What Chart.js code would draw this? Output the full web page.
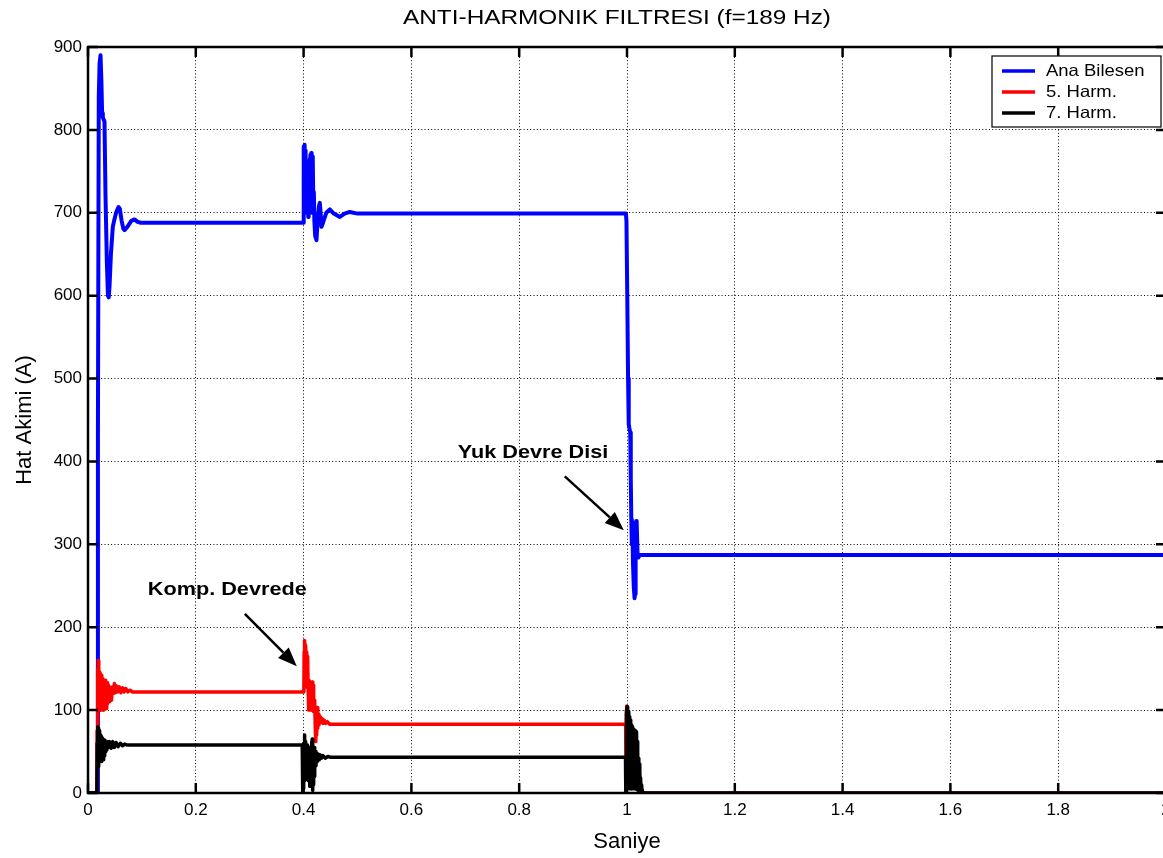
<!DOCTYPE html>
<html><head><meta charset="utf-8">
<script src="https://cdn.jsdelivr.net/npm/chart.js@4"></script>
<style>html,body{margin:0;padding:0;background:#fff;overflow:hidden}#wrap{width:1163px;height:858px;position:relative;overflow:hidden}</style>
</head><body><div id="wrap"><canvas id="c" width="1166" height="858"></canvas></div>
<script>
// ---- data: [time (s), current (A)] ----
const anaBilesen = [[0,0],[0.0178,0],[0.0184,430],[0.0200,840],[0.0215,880],[0.0232,890],[0.0248,860],[0.0262,820],[0.0275,815],[0.0306,810],[0.0325,720],[0.0350,640],[0.0370,600],[0.0385,598],[0.0400,612],[0.0425,650],[0.0460,683],[0.0490,692],[0.0525,701],[0.0566,707],[0.0590,705],[0.0625,690],[0.0655,681],[0.0677,679],[0.0730,683],[0.0800,690],[0.0863,692],[0.0920,689],[0.0980,688],
[0.3995,688],[0.4000,688],[0.4004,780],[0.4010,705],[0.4016,782],[0.4022,700],[0.4028,775],[0.4034,745],[0.4040,765],[0.4046,705],[0.4052,762],[0.4058,700],[0.4064,758],[0.4070,720],[0.4078,760],[0.4086,695],[0.4094,745],[0.4102,705],[0.4110,765],[0.4118,720],[0.4126,770],[0.4134,715],[0.4142,772],[0.4150,700],[0.4158,768],[0.4166,705],[0.4174,765],[0.4182,700],[0.4190,725],[0.4200,690],[0.4215,672],[0.4239,667],[0.4260,690],[0.4285,708],[0.4301,712],[0.4318,698],[0.4332,683],[0.4360,688],[0.4420,700],[0.4486,704],[0.4560,699],[0.4672,695],[0.4760,699],[0.4857,701],[0.5000,699],
[0.9980,699],[0.9990,690],[1.0005,600],[1.0020,500],[1.0032,445],[1.0045,440],[1.0060,435],[1.0070,380],[1.0080,330],[1.0090,300],[1.0100,326],[1.0110,280],[1.0125,250],[1.0140,235],[1.0150,240],[1.0160,300],[1.0170,328],[1.0180,325],[1.0195,290],[1.0210,284],[1.0237,287],[2.0,287]];

const harm5 = [[0,0],[0.0165,0],[0.0168,75],[0.0175,150],[0.0182,90],[0.0189,160],[0.0196,110],[0.0203,150],[0.0210,100],[0.0217,146],[0.0224,102],[0.0231,144],[0.0238,100],[0.0245,140],[0.0252,105],[0.0259,142],[0.0266,100],[0.0273,138],[0.0280,104],[0.0287,135],[0.0294,100],[0.0301,132],[0.0308,106],[0.0316,136],[0.0324,104],[0.0332,130],[0.0340,102],[0.0348,128],[0.0356,108],[0.0364,133],[0.0372,112],[0.0380,130],[0.0390,110],[0.0400,128],[0.0410,115],[0.0420,126],[0.0435,112],[0.0450,128],[0.0470,120],[0.0490,132],[0.0510,121],[0.0530,129],[0.0550,122],[0.0580,128],[0.0610,121],[0.0640,127],[0.0670,122],[0.0700,126],[0.0740,122],[0.0780,124],[0.0820,122],
[0.4005,122],[0.4010,170],[0.4018,184],[0.4026,178],[0.4034,130],[0.4042,176],[0.4050,128],[0.4058,170],[0.4066,132],[0.4074,165],[0.4082,135],[0.4090,100],[0.4098,136],[0.4106,102],[0.4114,135],[0.4122,100],[0.4130,134],[0.4138,104],[0.4146,133],[0.4154,100],[0.4162,134],[0.4170,101],[0.4178,130],[0.4186,98],[0.4194,112],[0.4202,98],[0.4210,110],[0.4218,75],[0.4226,62],[0.4234,95],[0.4242,70],[0.4250,103],[0.4258,78],[0.4266,98],[0.4274,82],[0.4285,95],[0.4297,84],[0.4310,92],[0.4325,85],[0.4340,90],[0.4360,84],[0.4380,88],[0.4410,84],[0.4440,86],[0.4480,83],[0.4550,83],
[0.9975,83],[0.9980,30],[0.9988,100],[0.9996,105],[1.0004,95],[1.0012,20],[1.0020,92],[1.0028,25],[1.0036,88],[1.0044,30],[1.0052,85],[1.0060,35],[1.0068,80],[1.0076,30],[1.0084,78],[1.0092,30],[1.0100,72],[1.0108,25],[1.0116,68],[1.0124,22],[1.0132,62],[1.0140,20],[1.0148,58],[1.0156,18],[1.0164,52],[1.0172,15],[1.0180,45],[1.0188,12],[1.0196,40],[1.0204,10],[1.0215,35],[1.0230,20],[1.0245,10],[1.0260,6],[1.0280,3],[1.0300,0],[2.0,0]];

const harm7 = [[0,0],[0.0165,0],[0.0170,60],[0.0177,80],[0.0184,40],[0.0191,78],[0.0198,32],[0.0205,75],[0.0212,38],[0.0219,72],[0.0226,40],[0.0233,70],[0.0240,45],[0.0247,68],[0.0254,38],[0.0261,66],[0.0268,42],[0.0275,65],[0.0282,40],[0.0290,63],[0.0298,45],[0.0306,64],[0.0314,48],[0.0322,62],[0.0330,50],[0.0340,62],[0.0350,52],[0.0360,61],[0.0380,55],[0.0400,62],[0.0430,54],[0.0460,62],[0.0490,55],[0.0520,61],[0.0560,56],[0.0600,60],[0.0640,57],[0.0680,59],[0.0720,58],
[0.3975,58],[0.3982,58],[0.3986,0],[0.3992,30],[0.3998,5],[0.4004,60],[0.4010,15],[0.4016,70],[0.4022,20],[0.4028,62],[0.4034,25],[0.4040,55],[0.4046,18],[0.4052,50],[0.4058,28],[0.4064,58],[0.4070,22],[0.4076,52],[0.4082,15],[0.4088,48],[0.4094,25],[0.4100,45],[0.4106,20],[0.4112,55],[0.4118,8],[0.4124,50],[0.4130,12],[0.4136,55],[0.4142,8],[0.4148,62],[0.4154,10],[0.4160,65],[0.4166,3],[0.4172,60],[0.4178,10],[0.4186,55],[0.4194,20],[0.4202,55],[0.4210,28],[0.4220,50],[0.4230,33],[0.4240,48],[0.4255,38],[0.4270,47],[0.4290,40],[0.4310,46],[0.4330,42],[0.4360,45],[0.4400,42],[0.4450,44],[0.4500,43],
[0.9972,43],[0.9978,0],[0.9983,18],[0.9988,2],[0.9994,95],[1.0000,104],[1.0006,8],[1.0012,100],[1.0018,5],[1.0024,98],[1.0030,6],[1.0036,95],[1.0042,5],[1.0048,92],[1.0054,6],[1.0060,88],[1.0066,5],[1.0072,85],[1.0078,6],[1.0084,82],[1.0090,5],[1.0096,80],[1.0102,6],[1.0108,78],[1.0114,5],[1.0120,77],[1.0126,6],[1.0132,76],[1.0138,5],[1.0144,75],[1.0150,5],[1.0156,75],[1.0162,6],[1.0168,74],[1.0174,5],[1.0180,72],[1.0186,4],[1.0192,62],[1.0198,4],[1.0204,50],[1.0210,3],[1.0216,42],[1.0222,3],[1.0228,35],[1.0234,2],[1.0240,26],[1.0246,2],[1.0252,18],[1.0260,2],[1.0270,10],[1.0280,2],[1.0290,0],[2.0,0]];

const seriesNames = ['Ana Bilesen', '5. Harm.', '7. Harm.'];
const seriesColors = ['#0000ff', '#ff0000', '#000000'];
const xTickLabels = ['0','0.2','0.4','0.6','0.8','1','1.2','1.4','1.6','1.8','2'];
const yTickLabels = ['0','100','200','300','400','500','600','700','800','900'];
const chartTitle = 'ANTI-HARMONIK FILTRESI (f=189 Hz)';
const xTitle = 'Saniye';
const yTitle = 'Hat Akimi (A)';
// annotation texts with anchor (data coords) and arrow from/to (data coords)
const noteTexts = ['Komp. Devrede', 'Yuk Devre Disi'];
const noteAnchors = [[0.111, 245], [0.686, 410]];
const noteArrowFrom = [[0.291, 216], [0.8846, 382]];
const noteArrowTo = [[0.3874, 153], [0.9941, 317]];

const FONT = '"Liberation Sans", Arial, Helvetica, sans-serif';

function sText(ctx, text, x, y, font, sx, align) {
  ctx.save();
  ctx.font = font;
  ctx.translate(x, y);
  ctx.scale(sx, 1);
  ctx.textAlign = align;
  ctx.textBaseline = 'middle';
  ctx.fillStyle = '#000';
  ctx.fillText(text, 0, 0);
  ctx.restore();
}

const deco = {
  id: 'deco',
  afterDatasetsDraw(chart) {
    const {ctx, chartArea: a, scales: {x, y}} = chart;
    ctx.save();
    ctx.strokeStyle = '#000';
    ctx.lineWidth = 2.5;
    ctx.strokeRect(a.left, a.top, a.right - a.left, a.bottom - a.top);
    ctx.beginPath();
    x.ticks.forEach(t => {
      const px = x.getPixelForValue(t.value);
      ctx.moveTo(px, a.bottom); ctx.lineTo(px, a.bottom - 10);
      ctx.moveTo(px, a.top); ctx.lineTo(px, a.top + 10);
    });
    y.ticks.forEach(t => {
      const py = y.getPixelForValue(t.value);
      ctx.moveTo(a.left, py); ctx.lineTo(a.left + 10, py);
      ctx.moveTo(a.right, py); ctx.lineTo(a.right - 10, py);
    });
    ctx.stroke();

    // annotations
    noteTexts.forEach((txt, i) => {
      const tx = x.getPixelForValue(noteAnchors[i][0]);
      const ty = y.getPixelForValue(noteAnchors[i][1]);
      sText(ctx, txt, tx, ty, 'bold 19px ' + FONT, 1.14, 'left');
      const x1 = x.getPixelForValue(noteArrowFrom[i][0]), y1 = y.getPixelForValue(noteArrowFrom[i][1]);
      const x2 = x.getPixelForValue(noteArrowTo[i][0]), y2 = y.getPixelForValue(noteArrowTo[i][1]);
      const ang = Math.atan2(y2 - y1, x2 - x1);
      const L = 19, W = 7.5;
      const bx = x2 - L * Math.cos(ang), by = y2 - L * Math.sin(ang);
      ctx.beginPath();
      ctx.lineWidth = 2.5;
      ctx.strokeStyle = '#000';
      ctx.moveTo(x1, y1); ctx.lineTo(bx, by);
      ctx.stroke();
      ctx.beginPath();
      ctx.fillStyle = '#000';
      ctx.moveTo(x2, y2);
      ctx.lineTo(bx + W * Math.sin(ang), by - W * Math.cos(ang));
      ctx.lineTo(bx - W * Math.sin(ang), by + W * Math.cos(ang));
      ctx.closePath();
      ctx.fill();
    });

    // legend
    const lx = a.right - 174, ly = a.top + 9, lw = 169, lh = 71;
    ctx.fillStyle = '#fff';
    ctx.fillRect(lx, ly, lw, lh);
    ctx.lineWidth = 1.2;
    ctx.strokeStyle = '#000';
    ctx.strokeRect(lx, ly, lw, lh);
    seriesNames.forEach((nm, i) => {
      const cy = ly + 15 + i * 21;
      ctx.beginPath();
      ctx.strokeStyle = seriesColors[i];
      ctx.lineWidth = 3.5;
      ctx.moveTo(lx + 10, cy); ctx.lineTo(lx + 43, cy);
      ctx.stroke();
      sText(ctx, nm, lx + 54, cy, '16.5px ' + FONT, 1.12, 'left');
    });

    // title
    sText(ctx, chartTitle, 617, 18, '21px ' + FONT, 1.16, 'center');
    ctx.restore();
  }
};

const datasets = [anaBilesen, harm5, harm7].map((d, i) => ({
  label: seriesNames[i],
  data: d.map(p => ({x: p[0], y: p[1]})),
  borderColor: seriesColors[i],
  backgroundColor: seriesColors[i],
  borderWidth: i === 0 ? 4 : 3.5,
  pointRadius: 0,
  showLine: true,
  fill: false,
  tension: 0,
  borderJoinStyle: 'round',
  borderCapStyle: 'round',
  order: 2 - i
}));

new Chart(document.getElementById('c'), {
  type: 'scatter',
  data: {datasets},
  options: {
    responsive: false,
    animation: false,
    devicePixelRatio: 1,
    layout: {padding: {top: 47, right: 0, bottom: 0, left: 0}},
    plugins: {legend: {display: false}, title: {display: false}, tooltip: {enabled: false}},
    scales: {
      x: {
        type: 'linear', min: 0, max: 2,
        ticks: {stepSize: 0.2, autoSkip: false, maxRotation: 0, padding: 7, color: '#000',
          font: {family: FONT, size: 17},
          callback: v => xTickLabels[Math.round(v / 0.2)]},
        grid: {color: '#000', lineWidth: 1, drawTicks: false},
        border: {display: false, dash: [1, 2.3]},
        title: {display: true, text: xTitle, color: '#000', font: {family: FONT, size: 22}, padding: {top: 0, bottom: 3}},
        afterFit(s) { s.height = 65; s.paddingLeft = 0; s.paddingRight = 0; }
      },
      y: {
        type: 'linear', min: 0, max: 900,
        ticks: {stepSize: 100, padding: 6, color: '#000',
          font: {family: FONT, size: 17},
          callback: v => yTickLabels[Math.round(v / 100)]},
        grid: {color: '#000', lineWidth: 1, drawTicks: false},
        border: {display: false, dash: [1, 2.3]},
        title: {display: true, text: yTitle, color: '#000', font: {family: FONT, size: 22}, padding: {top: 12, bottom: 0}},
        afterFit(s) { s.width = 88; s.paddingTop = 0; s.paddingBottom = 0; }
      }
    }
  },
  plugins: [deco]
});
</script>
</body></html>
